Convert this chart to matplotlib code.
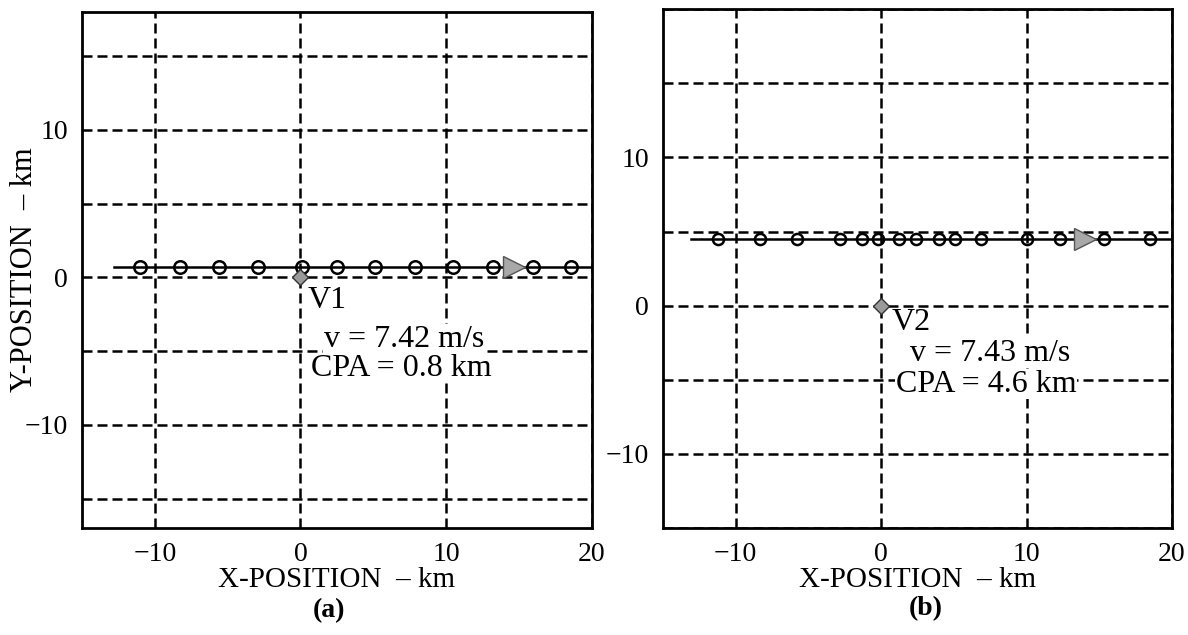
import numpy as np
import matplotlib
matplotlib.use("Agg")
import matplotlib.pyplot as plt
from matplotlib.ticker import MultipleLocator

plt.rcParams['font.family'] = ['Liberation Serif', 'DejaVu Serif']

# (a) vessel V1 track
track1_x = [-11.0, -8.3, -5.6, -2.9, 0.1, 2.5, 5.1, 7.9, 10.5, 13.2, 16.0, 18.6]
track1_y = [0.7, 0.7, 0.7, 0.7, 0.7, 0.7, 0.7, 0.7, 0.7, 0.7, 0.7, 0.7]
line1_x = [-12.8, 20.0]
line1_y = [0.7, 0.7]
arrow1 = (14.7, 0.7)
sensor1 = (0.0, 0.0)
text1 = ["V1", "v = 7.42 m/s", "CPA = 0.8 km"]

# (b) vessel V2 track
track2_x = [-11.2, -8.3, -5.8, -2.8, -1.3, -0.2, 1.2, 2.4, 4.0, 5.1, 6.9, 10.0, 12.3, 15.3, 18.5]
track2_y = [4.5, 4.5, 4.5, 4.5, 4.5, 4.5, 4.5, 4.5, 4.5, 4.5, 4.5, 4.5, 4.5, 4.5, 4.5]
line2_x = [-13.1, 19.9]
line2_y = [4.5, 4.5]
arrow2 = (14.0, 4.5)
sensor2 = (0.0, 0.0)
text2 = ["V2", "v = 7.43 m/s", "CPA = 4.6 km"]

xticks = [-10, 0, 10, 20]
yticks = [-10, 0, 10]

fig = plt.figure(figsize=(11.88, 6.35), dpi=100)
ax1 = fig.add_axes([0.069, 0.1685, 0.429, 0.8126])
ax2 = fig.add_axes([0.558, 0.1685, 0.4285, 0.817])


def setup(ax, ylim):
    ax.set_xlim(-15, 20)
    ax.set_ylim(*ylim)
    ax.set_xticks(xticks)
    ax.set_yticks(yticks)
    ax.yaxis.set_minor_locator(MultipleLocator(5))
    ax.grid(True, which='major', axis='x', color='black', lw=1.8, ls=(0, (4, 2)))
    ax.grid(True, which='both', axis='y', color='black', lw=1.8, ls=(0, (4, 2)))
    ax.tick_params(which='both', length=0, pad=10, labelsize=20)
    for s in ax.spines.values():
        s.set_linewidth(2)
    ax.set_xlabel("X-POSITION  \u2013 km", fontsize=21, labelpad=0)


def draw(ax, lx, ly, tx, ty, arrow, sensor, ms):
    ax.plot(lx, ly, color='black', lw=1.8, zorder=3)
    ax.plot(tx, ty, 'o', ms=ms, mfc='none', mec='black', mew=1.8, zorder=4)
    ax.plot([sensor[0]], [sensor[1]], 'D', ms=8, mfc='#9a9a9a', mec='#333333', mew=1, zorder=5)
    ax.plot([arrow[0]], [arrow[1]], '>', ms=16, mfc='#a8a8a8', mec='#555555', mew=1, zorder=5)


setup(ax1, (-17, 18))
setup(ax2, (-15, 20))
ax1.set_ylabel("Y-POSITION  \u2013 km", fontsize=22)
ax1.yaxis.set_label_coords(-0.084, 0.5)

draw(ax1, line1_x, line1_y, track1_x, track1_y, arrow1, sensor1, 9)
draw(ax2, line2_x, line2_y, track2_x, track2_y, arrow2, sensor2, 8)

box = dict(facecolor='white', edgecolor='none', pad=0.5)
ax1.text(0.5, -1.55, text1[0], fontsize=23, va='center', ha='left', zorder=6)
ax1.text(1.6, -4.2, text1[1], fontsize=23, va='center', ha='left', bbox=box, zorder=6)
ax1.text(0.7, -6.15, text1[2], fontsize=23, va='center', ha='left', bbox=box, zorder=6)

ax2.text(0.7, -1.15, text2[0], fontsize=23, va='center', ha='left', zorder=6)
ax2.text(2.0, -3.2, text2[1], fontsize=23, va='center', ha='left', bbox=box, zorder=6)
ax2.text(1.0, -5.3, text2[2], fontsize=23, va='center', ha='left', bbox=box, zorder=6)

fig.text(0.277, 0.039, "(a)", fontsize=20, fontweight='bold', ha='center', va='center')
fig.text(0.779, 0.042, "(b)", fontsize=20, fontweight='bold', ha='center', va='center')

fig.savefig("out.png", dpi=100)
